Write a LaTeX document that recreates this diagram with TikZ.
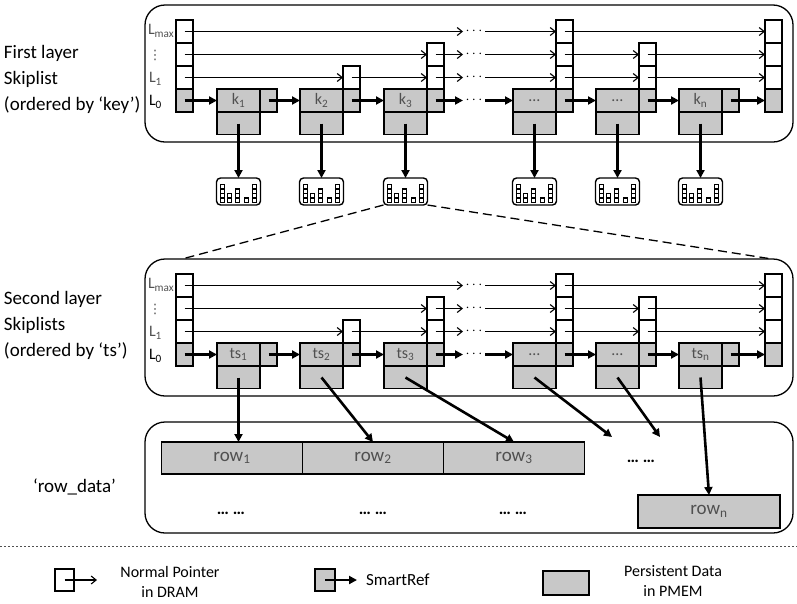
\documentclass[tikz,border=0pt]{standalone}
\usepackage{fontspec}
\setmainfont{Carlito}
\newfontfamily\symfont{DejaVu Sans}
\usetikzlibrary{arrows.meta,positioning}

\definecolor{pmem}{RGB}{200,200,200}
\definecolor{lbl}{RGB}{80,80,80}

\begin{document}
\begin{tikzpicture} [
        x = 1pt, y = -1pt,
        inner sep = 0,
        outer sep = 0,
        skipbox/.style = { draw, line width = 1.3pt, rounded corners = 20pt, minimum width = 648pt },
        cell/.style = { draw, line width = 1.5pt, fill = white, minimum width = 17pt, minimum height = 23pt },
        keycell/.style = { cell, fill = pmem, minimum width = 43pt, text = lbl, font = \fontsize{16}{16}\selectfont },
        valcell/.style = { cell, fill = pmem, minimum width = 43pt, minimum height = 22pt },
        rowcell/.style = { cell, fill = pmem, minimum width = 141pt, minimum height = 32pt, text = lbl, font = \fontsize{19}{19}\selectfont },
        icon/.style = { draw, line width = 1.4pt, rounded corners = 4pt, minimum width = 44pt, minimum height = 27pt },
        icobar/.style = { draw, line width = 1.1pt, fill = white },
        skipdots/.style = { minimum width = 22pt, font = \fontsize{14}{14}\selectfont },
        gapdots/.style = { font = \bfseries\fontsize{17}{17}\selectfont },
        lvl/.style = { text = lbl, font = \fontsize{16}{16}\selectfont },
        layertitle/.style = { align = left, font = \fontsize{19}{26}\selectfont },
        legtext/.style = { align = center, font = \fontsize{16}{20}\selectfont },
        ptr/.style = { line width = 1.1pt, -{Straight Barb[length = 5pt, width = 8pt]} },
        sref/.style = { line width = 2.6pt, -{Triangle[length = 8pt, width = 8pt]} },
        zoomline/.style = { line width = 1.3pt, dash pattern = on 9pt off 5pt }
        ]

        \useasboundingbox (0,0) rectangle (797,603);

        % the two skiplists, same layout
        \foreach \ly/\oy/\kk in {f/0/k, s/254/ts} {
            \node [skipbox, minimum height = 137pt] (\ly-box) at (469, 73.5+\oy) {};
            \foreach \j in {0,...,3} {
                \ifnum\j=0 \def\fc{pmem}\else\def\fc{white}\fi
                \node [cell, fill = \fc] (\ly-head-\j) at (184.5, 100.5+\oy-23*\j) {};
                \node [cell, fill = \fc] (\ly-tail-\j) at (773.5, 100.5+\oy-23*\j) {};
                \node [skipdots] (\ly-d\j) at (474, 100.5+\oy-23*\j) {$\cdots$};
            }
            \node [lvl, anchor = west] (\ly-lmax) at (148, 31+\oy) {L\textsubscript{max}};
            \node [lvl, font = \symfont\fontsize{13}{13}\selectfont] (\ly-ldots) at (155, 55+\oy) {⋮};
            \node [lvl, anchor = west] (\ly-l1) at (149, 79+\oy) {L\textsubscript{1}};
            \node [lvl, anchor = west, text = black] (\ly-l0) at (149, 102+\oy) {L\textsubscript{0}};

            \foreach \i/\x/\h/\t in {1/217/0/{\kk\textsubscript{1}}, 2/300/1/{\kk\textsubscript{2}},
                    3/384/2/{\kk\textsubscript{3}}, 4/513/3/{\dots}, 5/596/2/{\dots}, 6/679/0/{\kk\textsubscript{n}}} {
                \node [keycell] (\ly-k\i) at (\x+21.5, 100.5+\oy) {\t};
                \node [valcell] (\ly-v\i) at (\x+21.5, 123.5+\oy) {};
                \foreach \j in {0,...,\h} {
                    \ifnum\j=0 \def\fc{pmem}\else\def\fc{white}\fi
                    \node [cell, fill = \fc] (\ly-p\i-\j) at (\x+51.5, 100.5+\oy-23*\j) {};
                }
            }

            % L_max
            \draw [ptr] (\ly-head-3.center) -- (\ly-d3.west);
            \draw [ptr] (\ly-d3.east) -- (\ly-p4-3.west);
            \draw [ptr] (\ly-p4-3.center) -- (\ly-tail-3.west);
            % ...
            \draw [ptr] (\ly-head-2.center) -- (\ly-p3-2.west);
            \draw [ptr] (\ly-p3-2.center) -- (\ly-d2.west);
            \draw [ptr] (\ly-d2.east) -- (\ly-p4-2.west);
            \draw [ptr] (\ly-p4-2.center) -- (\ly-p5-2.west);
            \draw [ptr] (\ly-p5-2.center) -- (\ly-tail-2.west);
            % L_1
            \draw [ptr] (\ly-head-1.center) -- (\ly-p2-1.west);
            \draw [ptr] (\ly-p2-1.center) -- (\ly-p3-1.west);
            \draw [ptr] (\ly-p3-1.center) -- (\ly-d1.west);
            \draw [ptr] (\ly-d1.east) -- (\ly-p4-1.west);
            \draw [ptr] (\ly-p4-1.center) -- (\ly-p5-1.west);
            \draw [ptr] (\ly-p5-1.center) -- (\ly-tail-1.west);
            % L_0
            \draw [sref] (\ly-head-0.center) -- (\ly-k1.west);
            \draw [sref] (\ly-p1-0.center) -- (\ly-k2.west);
            \draw [sref] (\ly-p2-0.center) -- (\ly-k3.west);
            \draw [sref] (\ly-p3-0.center) -- (\ly-d0.west);
            \draw [sref] (\ly-d0.east) -- (\ly-k4.west);
            \draw [sref] (\ly-p4-0.center) -- (\ly-k5.west);
            \draw [sref] (\ly-p5-0.center) -- (\ly-k6.west);
            \draw [sref] (\ly-p6-0.center) -- (\ly-tail-0.west);
        }

        \node [layertitle, anchor = west] (ftitle) at (4, 79) {First layer\\Skiplist\\(ordered by ‘key’)};
        \node [layertitle, anchor = west] (stitle) at (4, 325) {Second layer\\Skiplists\\(ordered by ‘ts’)};

        % values of the first layer
        \foreach \i/\x in {1/217, 2/300, 3/384, 4/513, 5/596, 6/679} {
            \node [icon] (icon\i) at (\x+21.5, 191.5) {};
            \foreach \c/\n in {6/4, 13/2, 21/3, 30/1, 38/4}
                \foreach \k in {1,...,\n}
                    \draw [icobar] (\x+\c-2.5, 207-4.5*\k) rectangle ++(4,-4.5);
            \draw [sref] (f-v\i.center) -- (icon\i.north);
        }

        \coordinate (zoomL) at (182, 259);
        \coordinate (zoomR) at (772, 259);
        \draw [zoomline] (icon3.south west) -- (zoomL);
        \draw [zoomline] (icon3.south east) -- (zoomR);

        % row_data
        \node [skipbox, minimum height = 111pt] (rowbox) at (469, 477.5) {};
        \node [layertitle, anchor = west] (rowtitle) at (33, 487) {‘row\_data’};
        \node [rowcell] (row1) at (232, 458) {row\textsubscript{1}};
        \node [rowcell, right = 0pt of row1] (row2) {row\textsubscript{2}};
        \node [rowcell, right = 0pt of row2] (row3) {row\textsubscript{3}};
        \node [rowcell, minimum width = 142pt, minimum height = 33pt] (rown) at (709, 511.5) {row\textsubscript{n}};
        \node [gapdots] (gdots) at (641, 461) {\dots\ \dots};
        \node [gapdots] (bdots1) at (231, 513) {\dots\ \dots};
        \node [gapdots] (bdots2) at (373, 513) {\dots\ \dots};
        \node [gapdots] (bdots3) at (513, 513) {\dots\ \dots};

        \coordinate (gap4) at (612, 437);
        \coordinate (gap5) at (660, 437);
        \draw [sref] (s-v1.center) -- (s-v1.center |- row1.north);
        \draw [sref] (s-v2.center) -- (row2.north);
        \draw [sref] (s-v3.center) -- (row3.north);
        \draw [sref] (s-v4.center) -- (gap4);
        \draw [sref] (s-v5.center) -- (gap5);
        \draw [sref] (s-v6.center) -- (rown.north);

        % legend
        \draw [line width = 0.8pt, dash pattern = on 2pt off 2pt, lbl] (0, 546) -- (797, 546);
        \node [cell, minimum width = 19pt, minimum height = 22pt] (lgptr) at (64.5, 580) {};
        \coordinate (lgptrend) at (97, 580);
        \draw [ptr] (lgptr.center) -- (lgptrend);
        \node [legtext] (lgptrtext) at (170, 582) {Normal Pointer\\in DRAM};
        \node [cell, fill = pmem, minimum width = 20pt, minimum height = 22pt] (lgref) at (325, 580) {};
        \coordinate (lgrefend) at (357, 580);
        \draw [sref] (lgref.center) -- (lgrefend);
        \node [legtext, font = \fontsize{17}{20}\selectfont, right = 9pt of lgrefend] (lgreftext) {SmartRef};
        \node [cell, fill = pmem, minimum width = 46pt, minimum height = 24pt] (lgdata) at (566, 583) {};
        \node [legtext] (lgdatatext) at (673, 581) {Persistent Data\\in PMEM};
\end{tikzpicture}
\end{document}
